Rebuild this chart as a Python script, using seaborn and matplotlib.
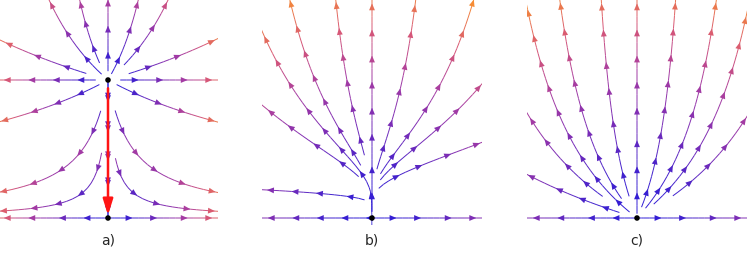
import numpy as np
import matplotlib
matplotlib.use('Agg')
import matplotlib.pyplot as plt
from matplotlib.patches import FancyArrowPatch
import seaborn as sns

sns.set_style('white')
plt.rcParams['font.family'] = ['DejaVu Sans']

# system x' = x, y' = y (y - mu), one mu per panel
panel_labels = ['a)', 'b)', 'c)']
mu_values = [1.0, 0.0, -1.0]

# fixed points drawn as black dots
fixed_x = [[0.0, 0.0], [0.0], [0.0]]
fixed_y = [[1.0, 0.0], [0.0], [0.0]]

# one point on every stream line (mostly the tips)
seeds_a_x = [-0.4, 0.4, 0.0, 0.0, -0.4, 0.4, -0.42, -0.203, 0.217, 0.428,
             -0.783, 0.775, -0.688, 0.688, -0.783, 0.78, -0.783, 0.775]
seeds_a_y = [0.0, 0.0, 0.5, 1.3, 1.0, 1.0, 1.565, 1.57, 1.57, 1.565,
             1.29, 1.29, 0.725, 0.725, 0.188, 0.188, 0.05, 0.05]
seeds_b_x = [-0.4, 0.4, 0.0, -0.761, -0.572, -0.261, -0.754, -0.761,
             0.312, 0.71, 0.79, 0.783]
seeds_b_y = [0.0, 0.0, 0.8, 1.275, 1.486, 1.565, 0.783, 0.203,
             1.543, 1.493, 0.964, 0.543]
seeds_c_x = [-0.4, 0.4, 0.0, -0.783, -0.536, -0.254, 0.275, 0.551, 0.79,
             -0.775, -0.79, 0.79]
seeds_c_y = [0.0, 0.0, 0.8, 1.464, 1.42, 1.507, 1.514, 1.42, 1.457,
             0.725, 0.312, 0.725]
seeds_x = [seeds_a_x, seeds_b_x, seeds_c_x]
seeds_y = [seeds_a_y, seeds_b_y, seeds_c_y]

# distance from the dot that reaches the top colour
color_top = [0.9, 1.7, 1.75]

cmap = sns.blend_palette(['#2a1bd8', '#4422cc', '#7a2cb6', '#a63ca2',
                          '#d85876', '#f68c34'], as_cmap=True)

W, H = 747, 254
scale = 138.0                 # pixels per unit
centers = [108, 372, 637]     # pixel x of the origin in each panel
base = 218                    # pixel y of the origin
x_lo, x_hi, y_lo, y_hi = -0.8, 0.8, -0.05, 1.6

fig = plt.figure(figsize=(W / 100, H / 100), dpi=100)

gx = np.linspace(-0.8, 0.8, 161)
gy = np.linspace(-0.1, 1.6, 171)
X, Y = np.meshgrid(gx, gy)

for i in range(3):
    left = (centers[i] + x_lo * scale) / W
    bottom = (H - (base - y_lo * scale)) / H
    ax = fig.add_axes([left, bottom, (x_hi - x_lo) * scale / W,
                       (y_hi - y_lo) * scale / H])

    U = X
    V = Y * (Y - mu_values[i])
    D = np.min([np.hypot(X - a, Y - b) for a, b in zip(fixed_x[i], fixed_y[i])], axis=0)
    norm = plt.Normalize(0, color_top[i])

    n0 = len(ax.patches)
    sp = ax.streamplot(gx, gy, U, V,
                       start_points=np.column_stack([seeds_x[i], seeds_y[i]]),
                       integration_direction='both', density=1.2, color=D,
                       cmap=cmap, norm=norm, linewidth=0.7)
    sp.lines.set_snap(False)
    # drop the single mid-line arrows, more are added below
    for p in list(ax.patches)[n0:]:
        p.remove()

    # arrow heads spaced along each stream line
    segs = sp.lines.get_segments()
    vals = np.asarray(sp.lines.get_array())
    groups, cur = [], [0]
    for k in range(1, len(segs)):
        if np.allclose(segs[k][0], segs[k - 1][1]):
            cur.append(k)
        else:
            groups.append(cur)
            cur = [k]
    groups.append(cur)
    for idx in groups:
        pts = np.vstack([segs[idx[0]][0]] + [segs[k][1] for k in idx])
        s = np.concatenate([[0], np.cumsum(np.hypot(*np.diff(pts, axis=0).T))])
        n = max(1, int(round(s[-1] / 0.2)))
        for k in range(n):
            j = int(np.searchsorted(s, s[-1] * (k + 0.7) / n))
            j = min(max(j, 1), len(pts) - 1)
            c = cmap(norm(vals[idx[j - 1]]))
            ax.add_patch(FancyArrowPatch(pts[j - 1], pts[j],
                                         arrowstyle='-|>,head_length=0.5,head_width=0.21',
                                         mutation_scale=10, color=c, lw=0,
                                         shrinkA=0, shrinkB=0, zorder=3))

    if i == 0:
        ax.annotate('', xy=(fixed_x[0][1], fixed_y[0][1]),
                    xytext=(fixed_x[0][0], fixed_y[0][0]),
                    arrowprops=dict(arrowstyle='-|>,head_length=0.8,head_width=0.25',
                                    color='#ff1414', lw=1.8, shrinkA=6, shrinkB=2,
                                    mutation_scale=12), zorder=5)

    sns.scatterplot(x=fixed_x[i], y=fixed_y[i], color='black', s=16,
                    edgecolor='none', ax=ax, zorder=6, legend=False)

    ax.set_xlim(x_lo, x_hi)
    ax.set_ylim(y_lo, y_hi)
    ax.set_axis_off()

    fig.text(centers[i] / W, 14 / H, panel_labels[i], ha='center',
             va='center', fontsize=10)

fig.savefig('out.png', dpi=100)
